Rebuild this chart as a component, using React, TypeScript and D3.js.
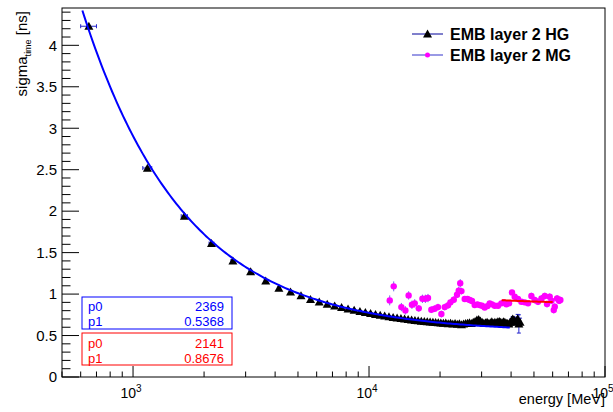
import React from "react";
import * as d3 from "d3";

// ---------- data ----------
const hgEnergy = [
  650, 1150, 1650, 2150, 2650, 3150, 3650, 4150, 4650, 5150,
  5650, 6150, 6650, 7150, 7650, 8150, 8650, 9150, 9650, 10150,
  10650, 11150, 11650, 12150, 12650, 13150, 13650, 14150, 14650, 15150,
  15650, 16150, 16650, 17150, 17650, 18150, 18650, 19150, 19650, 20150,
  20650, 21150, 21650, 22150, 22650, 23150, 23650, 24150, 24650, 25150,
  25650, 26150, 26650, 27150, 27650, 28150, 28650, 29150, 29650, 30150,
  30650, 31150, 31650, 32150, 32650, 33150, 33650, 34150, 34650, 35150,
  35650, 36150, 36650, 37150, 37650, 38150, 38650, 39150, 39650, 40150,
  40650, 41150, 41650, 42150, 42650, 43150, 43650,
];
const hgSigma = [
  4.23, 2.52, 1.94, 1.61, 1.4, 1.27, 1.16, 1.07, 1.025, 0.98,
  0.935, 0.905, 0.88, 0.858, 0.84, 0.82, 0.805, 0.79, 0.778, 0.767,
  0.755, 0.746, 0.737, 0.728, 0.72, 0.712, 0.706, 0.7, 0.694, 0.689,
  0.684, 0.679, 0.674, 0.671, 0.667, 0.664, 0.66, 0.657, 0.655, 0.652,
  0.648, 0.652, 0.644, 0.648, 0.64, 0.645, 0.636, 0.642, 0.632, 0.64,
  0.645, 0.65, 0.656, 0.646, 0.66, 0.672, 0.688, 0.695, 0.676, 0.662,
  0.65, 0.656, 0.662, 0.646, 0.656, 0.666, 0.65, 0.662, 0.655, 0.666,
  0.672, 0.66, 0.654, 0.666, 0.66, 0.65, 0.645, 0.64, 0.66, 0.682,
  0.7, 0.69, 0.662, 0.68, 0.705, 0.64, 0.66,
];
const hgSigmaErr = [
  0.01, 0.01, 0.01, 0.01, 0.01, 0.01, 0.01, 0.01, 0.01, 0.01,
  0.01, 0.01, 0.01, 0.01, 0.01, 0.01, 0.01, 0.01, 0.01, 0.01,
  0.01, 0.01, 0.01, 0.01, 0.01, 0.01, 0.01, 0.01, 0.01, 0.01,
  0.01, 0.01, 0.01, 0.01, 0.01, 0.01, 0.01, 0.01, 0.01, 0.01,
  0.01, 0.01, 0.01, 0.01, 0.01, 0.01, 0.01, 0.01, 0.01, 0.01,
  0.01, 0.01, 0.01, 0.01, 0.01, 0.01, 0.01, 0.01, 0.01, 0.01,
  0.01, 0.01, 0.01, 0.01, 0.01, 0.01, 0.01, 0.01, 0.01, 0.01,
  0.01, 0.01, 0.01, 0.01, 0.01, 0.01, 0.01, 0.01, 0.01, 0.02,
  0.03, 0.03, 0.03, 0.04, 0.05, 0.11, 0.05,
];
const hgEnergyErr = 50;

const mgEnergy = [
  12240, 12725, 13710, 14260, 14720, 15200, 15620, 16250, 16840, 17330,
  17780, 18370, 18970, 19600, 20260, 20930, 21620, 22130, 22860, 23600,
  24000, 24350, 24640, 25440, 26120, 26720, 27310, 28040, 28780, 29440,
  30120, 30900, 31750, 32460, 33200, 34100, 35220, 36390, 37300, 38200,
  39200, 40350, 41420, 42760, 44220, 45690, 47200, 48750, 50350, 52000,
  53800, 55580, 56800, 58300, 59300, 60650, 61250, 62650, 63900, 64700,
];
const mgSigma = [
  0.924, 1.093, 0.843, 0.803, 0.984, 0.871, 0.888, 0.828, 0.943, 0.943,
  0.952, 0.811, 0.823, 0.843, 0.759, 0.843, 0.864, 0.9, 0.931, 0.992,
  1.04, 1.13, 1.036, 0.94, 0.94, 0.928, 0.916, 0.867, 0.876, 0.867,
  0.859, 0.839, 0.855, 0.888, 0.876, 0.859, 0.859, 0.888, 0.9, 0.876,
  0.89, 1.02, 0.967, 0.94, 0.907, 0.9, 0.888, 0.976, 0.928, 0.907,
  0.948, 0.976, 0.88, 0.967, 0.919, 0.807, 0.847, 0.948, 0.919, 0.928,
];
const mgSigmaErr = [
  0.06, 0.06, 0.05, 0.05, 0.05, 0.05, 0.05, 0.04, 0.05, 0.05,
  0.05, 0.04, 0.04, 0.04, 0.04, 0.04, 0.04, 0.04, 0.04, 0.04,
  0.05, 0.05, 0.04, 0.03, 0.03, 0.03, 0.03, 0.03, 0.03, 0.03,
  0.03, 0.03, 0.03, 0.03, 0.03, 0.03, 0.03, 0.03, 0.03, 0.03,
  0.03, 0.03, 0.03, 0.03, 0.03, 0.03, 0.03, 0.04, 0.04, 0.04,
  0.04, 0.04, 0.04, 0.04, 0.04, 0.04, 0.04, 0.04, 0.04, 0.04,
];

// fit parameters: sigma = p0 / E + p1
const fitHG = { p0: 2369, p1: 0.5368, range: [610, 39500], label0: "2369", label1: "0.5368" };
const fitMG = { p0: 2141, p1: 0.8676, range: [36500, 60000], label0: "2141", label1: "0.8676" };

const legendLabels = ["EMB layer 2 HG", "EMB layer 2 MG"];
const yTickValues = [0, 0.5, 1, 1.5, 2, 2.5, 3, 3.5, 4];
const yTickLabels = ["0", "0.5", "1", "1.5", "2", "2.5", "3", "3.5", "4"];
const xDecades = [1000, 10000, 100000];
const xDecadeExp = ["3", "4", "5"];

// ---------- layout ----------
const W = 613;
const H = 412;
const L = 62, R = 605, T = 8, B = 377;
const FONT = "'Liberation Sans', Arial, Helvetica, sans-serif";

export default function App() {
  const x = d3.scaleLog().domain([500, 100000]).range([L, R]);
  const y = d3.scaleLinear().domain([0, 4.45]).range([B, T]);

  const yMinor = d3.range(0, 4.451, 0.1);
  const xMinor: number[] = [];
  [100, 1000, 10000].forEach((d) => {
    for (let k = 2; k <= 9; k++) {
      const v = k * d;
      if (v >= 500 && v <= 100000) xMinor.push(v);
    }
  });

  const fitPath = (f: typeof fitHG) => {
    const [a, b] = f.range;
    const pts = d3.range(0, 201).map((i) => a * Math.pow(b / a, i / 200));
    return d3
      .line<number>()
      .x((e) => x(e))
      .y((e) => y(f.p0 / e + f.p1))(pts) as string;
  };

  const tri = (cx: number, cy: number) =>
    `M${cx - 4.5},${cy + 3.6} L${cx + 4.5},${cy + 3.6} L${cx},${cy - 4.4} Z`;

  const hgColorErr = "#2222cc";
  const mgColorErr = "#6a6ae6";

  return (
    <svg width={W} height={H} style={{ display: "block", position: "absolute", left: 0, top: 0 }} fontFamily={FONT}>
      <rect x={0} y={0} width={W} height={H} fill="#fff" />
      <defs>
        <clipPath id="frame">
          <rect x={L} y={T} width={R - L} height={B - T} />
        </clipPath>
      </defs>

      {/* HG data */}
      <g clipPath="url(#frame)">
        {hgEnergy.map((e, i) => (
          <g key={"hge" + i} stroke={hgColorErr} strokeWidth={1}>
            <line x1={x(e - hgEnergyErr)} x2={x(e + hgEnergyErr)} y1={y(hgSigma[i])} y2={y(hgSigma[i])} />
            <line x1={x(e - hgEnergyErr)} x2={x(e - hgEnergyErr)} y1={y(hgSigma[i]) - 2} y2={y(hgSigma[i]) + 2} />
            <line x1={x(e + hgEnergyErr)} x2={x(e + hgEnergyErr)} y1={y(hgSigma[i]) - 2} y2={y(hgSigma[i]) + 2} />
            <line x1={x(e)} x2={x(e)} y1={y(hgSigma[i] - hgSigmaErr[i])} y2={y(hgSigma[i] + hgSigmaErr[i])} />
            <line x1={x(e) - 2} x2={x(e) + 2} y1={y(hgSigma[i] - hgSigmaErr[i])} y2={y(hgSigma[i] - hgSigmaErr[i])} />
            <line x1={x(e) - 2} x2={x(e) + 2} y1={y(hgSigma[i] + hgSigmaErr[i])} y2={y(hgSigma[i] + hgSigmaErr[i])} />
          </g>
        ))}
        {hgEnergy.map((e, i) => (
          <path key={"hgm" + i} d={tri(x(e), y(hgSigma[i]))} fill="#000" />
        ))}

        {/* MG data */}
        {mgEnergy.map((e, i) => (
          <line key={"mge" + i} x1={x(e)} x2={x(e)} y1={y(mgSigma[i] - mgSigmaErr[i])} y2={y(mgSigma[i] + mgSigmaErr[i])} stroke={mgColorErr} strokeWidth={1} />
        ))}
        {mgEnergy.map((e, i) => (
          <circle key={"mgm" + i} cx={x(e)} cy={y(mgSigma[i])} r={3.2} fill="#ff00ff" />
        ))}

        {/* fits */}
        <path d={fitPath(fitHG)} fill="none" stroke="#0000ff" strokeWidth={2} />
        <path d={fitPath(fitMG)} fill="none" stroke="#ff0000" strokeWidth={2} />
      </g>

      {/* frame */}
      <rect x={L} y={T} width={R - L} height={B - T} fill="none" stroke="#000" strokeWidth={1} />

      {/* y ticks */}
      {yMinor.map((v, i) => {
        const major = Math.abs(v * 2 - Math.round(v * 2)) < 1e-6;
        return <line key={"yt" + i} x1={L} x2={L + (major ? 17 : 8.5)} y1={y(v)} y2={y(v)} stroke="#000" strokeWidth={1} />;
      })}
      {yTickValues.map((v, i) => (
        <text key={"yl" + i} x={57} y={y(v) + 5.3} fontSize={15} textAnchor="end" fill="#000">
          {yTickLabels[i]}
        </text>
      ))}

      {/* x ticks */}
      {xMinor.map((v, i) => (
        <line key={"xm" + i} x1={x(v)} x2={x(v)} y1={B} y2={B - 5.5} stroke="#000" strokeWidth={1} />
      ))}
      {xDecades.map((v, i) => (
        <g key={"xd" + i}>
          <line x1={x(v)} x2={x(v)} y1={B} y2={B - 11} stroke="#000" strokeWidth={1} />
          <text x={x(v) - 2} y={398} fontSize={14} textAnchor="middle" fill="#000">
            10
            <tspan dy={-6} fontSize={10}>{xDecadeExp[i]}</tspan>
          </text>
        </g>
      ))}

      {/* axis titles */}
      <text x={R} y={404} fontSize={14.5} textAnchor="end" fill="#000">energy [MeV]</text>
      <text transform={`translate(26.5,11) rotate(-90)`} fontSize={15} textAnchor="end" fill="#000">
        sigma<tspan dy={4} fontSize={9}>time</tspan>
        <tspan dy={-4}> [ns]</tspan>
      </text>

      {/* legend */}
      <line x1={412} x2={443} y1={34} y2={34} stroke="#000099" strokeWidth={1} />
      <path d={tri(427.5, 34)} fill="#000" />
      <text x={450} y={39.5} fontSize={16} fontWeight="bold" fill="#000">{legendLabels[0]}</text>
      <line x1={412} x2={443} y1={55} y2={55} stroke="#7777dd" strokeWidth={1.5} />
      <circle cx={427.5} cy={55} r={2.5} fill="#ff00ff" />
      <text x={450} y={60.5} fontSize={16} fontWeight="bold" fill="#000">{legendLabels[1]}</text>

      {/* stat boxes */}
      <rect x={82} y={297} width={150} height={32} fill="#fff" stroke="#0000ff" strokeWidth={1} />
      <text x={88} y={310.5} fontSize={13} fill="#0000ff">p0</text>
      <text x={224} y={310.5} fontSize={13} fill="#0000ff" textAnchor="end">{fitHG.label0}</text>
      <text x={88} y={325.5} fontSize={13} fill="#0000ff">p1</text>
      <text x={224} y={325.5} fontSize={13} fill="#0000ff" textAnchor="end">{fitHG.label1}</text>

      <rect x={82} y={333} width={150} height={32} fill="#fff" stroke="#ff0000" strokeWidth={1} />
      <text x={88} y={347.5} fontSize={13} fill="#ff0000">p0</text>
      <text x={224} y={347.5} fontSize={13} fill="#ff0000" textAnchor="end">{fitMG.label0}</text>
      <text x={88} y={362.5} fontSize={13} fill="#ff0000">p1</text>
      <text x={224} y={362.5} fontSize={13} fill="#ff0000" textAnchor="end">{fitMG.label1}</text>
    </svg>
  );
}
